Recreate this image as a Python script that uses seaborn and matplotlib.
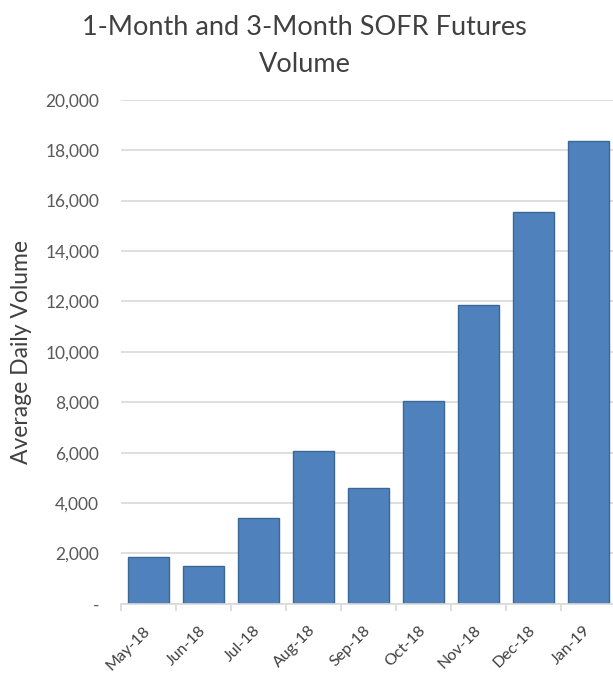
import matplotlib
matplotlib.use("Agg")
import matplotlib.pyplot as plt
import matplotlib.transforms as mtransforms
import seaborn as sns
import pandas as pd
from matplotlib.ticker import FuncFormatter, FixedLocator

months = ["May-18", "Jun-18", "Jul-18", "Aug-18", "Sep-18", "Oct-18", "Nov-18", "Dec-18", "Jan-19"]
volume = [1850, 1520, 3400, 6050, 4600, 8050, 11870, 15550, 18350]
yticks = [0, 2000, 4000, 6000, 8000, 10000, 12000, 14000, 16000, 18000, 20000]

df = pd.DataFrame({"Month": months, "Volume": volume})

sns.set_theme(style="white")
plt.rcParams["font.family"] = ["Lato", "DejaVu Sans"]

fig = plt.figure(figsize=(6.13, 6.74), dpi=100)
ax = fig.add_axes([0.197, 0.104, 0.808, 0.748])

sns.barplot(data=df, x="Month", y="Volume", color="#4f81bd", saturation=1,
            edgecolor="#3a6896", linewidth=1.0, width=0.75, ax=ax, zorder=3)

ax.set_ylim(0, 20000)
ax.set_xlim(-0.5, len(months) - 0.5)
ax.yaxis.set_major_locator(FixedLocator(yticks))
ax.yaxis.set_major_formatter(FuncFormatter(lambda v, p: "-" if v == 0 else f"{int(v):,}"))
ax.grid(axis="y", color="#d9d9d9", linewidth=1.2, zorder=0)
ax.set_axisbelow(True)

for s in ["top", "right", "left"]:
    ax.spines[s].set_visible(False)
ax.spines["bottom"].set_color("#d9d9d9")
ax.spines["bottom"].set_linewidth(1.2)
ax.spines["bottom"].set_zorder(4)

# Excel-like category-boundary tick marks
ax.set_xticks([i for i in range(len(months))])
ax.set_xticklabels(months, rotation=45, ha="right", rotation_mode="anchor",
                   fontsize=11.5, color="#404040")
ax.set_xticks([i - 0.5 for i in range(len(months) + 1)], minor=True)
ax.tick_params(axis="x", which="major", length=0, pad=14)
ax.tick_params(axis="x", which="minor", length=5, width=1.2, color="#d9d9d9", direction="out", bottom=True)
ax.tick_params(axis="y", length=0, labelsize=12.5, labelcolor="#595959", pad=15.5)
shift = mtransforms.ScaledTranslation(-5 / 100, 0, fig.dpi_scale_trans)
for lbl in ax.get_xticklabels():
    lbl.set_transform(lbl.get_transform() + shift)

ax.set_xlabel("")
ax.set_ylabel("Average Daily Volume", fontsize=16.5, color="#404040")
ax.yaxis.set_label_coords(-0.18, 0.5)

fig.text(0.497, 0.978, "1-Month and 3-Month SOFR Futures\nVolume", ha="center", va="top",
         fontsize=19.5, color="#404040", linespacing=1.6)

fig.savefig("out.png", dpi=100, facecolor="white")
